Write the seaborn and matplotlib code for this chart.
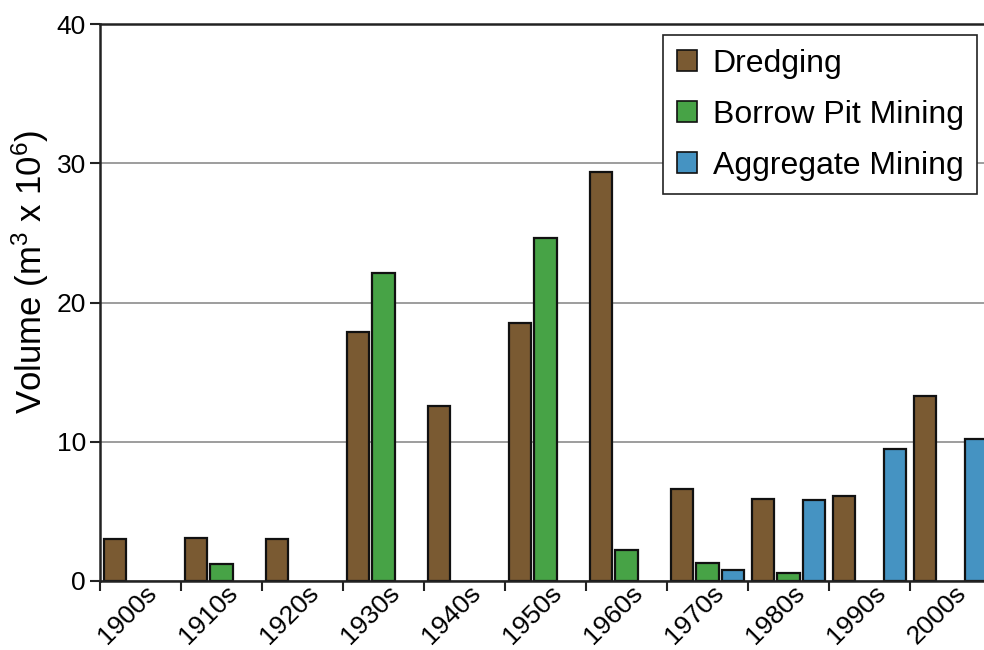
import numpy as np
import pandas as pd
import matplotlib
matplotlib.use("Agg")
import matplotlib.pyplot as plt
import matplotlib.transforms as mtransforms
from matplotlib.patches import Patch
import seaborn as sns

decades = ["1900s", "1910s", "1920s", "1930s", "1940s", "1950s",
           "1960s", "1970s", "1980s", "1990s", "2000s"]
series = ["Dredging", "Borrow Pit Mining", "Aggregate Mining"]
dredging = [3.0, 3.1, 3.0, 17.9, 12.6, 18.5, 29.4, 6.6, 5.9, 6.1, 13.3]
borrow_pit = [np.nan, 1.2, np.nan, 22.1, np.nan, 24.6, 2.2, 1.3, 0.6, np.nan, np.nan]
aggregate = [np.nan, np.nan, np.nan, np.nan, np.nan, np.nan, np.nan, 0.8, 5.8, 9.5, 10.2]
colors = ["#7a5a32", "#47a346", "#4593c2"]
y_ticks = [0, 10, 20, 30, 40]

df = pd.DataFrame({
    "decade": decades * 3,
    "series": sum([[s] * len(decades) for s in series], []),
    "value": dredging + borrow_pit + aggregate,
})

sns.set_theme(style="white")
plt.rcParams["font.family"] = ["Liberation Sans", "DejaVu Sans"]
plt.rcParams["mathtext.fontset"] = "custom"
plt.rcParams["mathtext.rm"] = "Liberation Sans"
plt.rcParams["mathtext.it"] = "Liberation Sans:italic"
plt.rcParams["mathtext.bf"] = "Liberation Sans:bold"
plt.rcParams["text.color"] = "black"
plt.rcParams["xtick.color"] = "black"
plt.rcParams["ytick.color"] = "black"
plt.rcParams["axes.labelcolor"] = "black"

fig = plt.figure(figsize=(9.84, 6.5), dpi=100)
ax = fig.add_axes([100 / 984, 1 - 581 / 650, 1 - 100 / 984, (581 - 24) / 650])

sns.barplot(data=df, x="decade", y="value", hue="series", order=decades,
            hue_order=series, palette=colors, width=0.945, gap=0.13,
            edgecolor="#111111", linewidth=1.6, saturation=1, legend=False,
            errorbar=None, ax=ax)

ax.set_xlim(-0.5, -0.5 + 884 / 81)
ax.set_ylim(0, 40)
ax.set_yticks(y_ticks)
ax.set_yticklabels([str(t) for t in y_ticks], fontsize=19)
ax.set_axisbelow(True)
ax.yaxis.grid(True, color="#8c8c8c", linewidth=1.2)
ax.xaxis.grid(False)

# x tick labels at category centres, tick marks at category boundaries
ax.set_xticks(np.arange(len(decades)))
ax.set_xticklabels(decades, fontsize=19, rotation=45, ha="right", va="top",
                   rotation_mode="anchor")
ax.set_xticks(np.arange(len(decades)) - 0.5, minor=True)
ax.tick_params(axis="x", which="major", length=0, pad=0)
ax.tick_params(axis="x", which="minor", length=7, width=1.5, color="#222222",
               direction="out", bottom=True)
ax.tick_params(axis="y", length=7, width=1.5, color="#222222", direction="out",
               left=True, pad=3)
offset = mtransforms.ScaledTranslation(4 / 100, 0, fig.dpi_scale_trans)
for lbl in ax.get_xticklabels():
    lbl.set_transform(lbl.get_transform() + offset)

for side in ["left", "bottom", "top"]:
    ax.spines[side].set_visible(True)
    ax.spines[side].set_color("#222222")
    ax.spines[side].set_linewidth(1.8)
ax.spines["right"].set_visible(False)

ax.set_xlabel("")
ax.set_ylabel("Volume (m$^3$ x 10$^6$)", fontsize=25)
ax.yaxis.set_label_coords(-0.055, 0.555)

handles = [Patch(facecolor=c, edgecolor="#111111", linewidth=1.2) for c in colors]
leg = ax.legend(handles, series, loc="upper right", bbox_to_anchor=(0.992, 0.980),
                borderaxespad=0, fontsize=23, frameon=True, fancybox=False,
                edgecolor="#222222", framealpha=1, handlelength=0.62,
                handleheight=0.62, handletextpad=0.5, labelspacing=0.66,
                borderpad=0.42)
leg.get_frame().set_linewidth(1.2)

fig.savefig("out.png", dpi=100)
